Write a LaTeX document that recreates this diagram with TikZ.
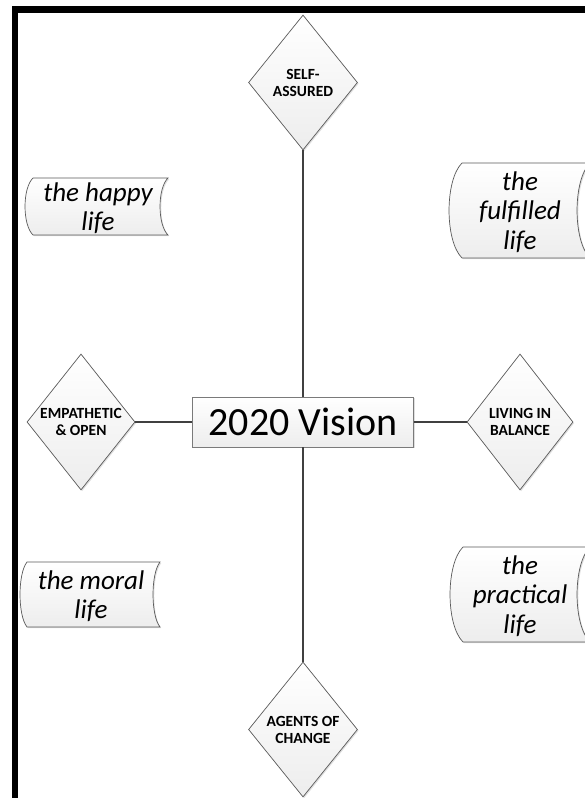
\documentclass[tikz,border=0pt]{standalone}
\usepackage{fontspec}
\setmainfont{Carlito}
\usetikzlibrary{shapes.geometric,shadows}
\definecolor{linec}{HTML}{404040}
\definecolor{edgec}{HTML}{5A5A5A}
\definecolor{boxedge}{HTML}{7A7A7A}
\definecolor{fillb}{HTML}{EDEDED}
\newcommand\sdshape[5]{%
  \path[tapebox] (#1,#3) -- (#2,#3)
    .. controls ({#2-1.33*#5},{#3+0.18*(#4-#3)}) and ({#2-1.33*#5},{#4-0.18*(#4-#3)}) .. (#2,#4)
    -- (#1,#4)
    .. controls ({#1-1.33*#5},{#4-0.18*(#4-#3)}) and ({#1-1.33*#5},{#3+0.18*(#4-#3)}) .. (#1,#3)
    -- cycle;}
\begin{document}
\begin{tikzpicture}[x=1pt,y=-1pt,
  softshadow/.style={drop shadow={shadow xshift=1.2pt,shadow yshift=-1.2pt,opacity=0.25,fill=black!50}},
  dia/.style={diamond, draw=edgec, line width=0.7pt, top color=white, bottom color=fillb,
    minimum width=109pt, minimum height=135pt, inner sep=0pt, softshadow},
  dtext/.style={font=\bfseries\fontsize{15.5}{17}\selectfont, align=center, inner sep=0pt},
  visbox/.style={rectangle, draw=boxedge, line width=0.8pt, top color=white, bottom color=fillb,
    minimum width=221pt, minimum height=50pt, inner sep=0pt, softshadow,
    font=\fontsize{40}{46}\selectfont},
  tapebox/.style={draw=edgec, line width=0.7pt, top color=white, bottom color=fillb, softshadow},
  ttext/.style={font=\itshape\fontsize{27}{29.5}\selectfont, align=center, inner sep=0pt},
  conn/.style={draw=linec, line width=2pt}
]
\useasboundingbox (0,0) rectangle (585,798);
\clip (0,0) rectangle (585,798);
\fill[white] (0,0) rectangle (585,798);
% border
\fill[black] (12,6) rectangle (585,13);
\fill[black] (12,6) rectangle (18,798);

% stored-data shapes
\sdshape{33}{168}{178}{235}{8}
\node[ttext] (happy) at (98,208) {the happy\\life};
\sdshape{462}{590}{163}{258}{13}
\node[ttext] (fulfilled) at (520,212) {the\\fulfilled\\life};
\sdshape{27}{160}{562}{627}{7}
\node[ttext] (moral) at (91,596) {the moral\\life};
\sdshape{463}{590}{547}{642}{13}
\node[ttext] (practical) at (520,596) {the\\practical\\life};

% diamonds
\node[dia] (sa) at (303,82.5) {};
\node[dtext] (satext) at (sa) {SELF-\\ASSURED};
\node[dia] (ac) at (303,729.5) {};
\node[dtext] (actext) at (ac) {AGENTS OF\\CHANGE};
\node[dia, minimum width=108pt, minimum height=136pt] (eo) at (81,422) {};
\node[dtext] (eotext) at (eo) {EMPATHETIC\\\& OPEN};
\node[dia, minimum width=106pt, minimum height=136pt] (lb) at (520,422) {};
\node[dtext] (lbtext) at (lb) {LIVING IN\\BALANCE};

% central box
\node[visbox] (vis) at (303,422) {2020 Vision};

% connectors
\draw[conn] (sa.south) -- (vis.north);
\draw[conn] (vis.south) -- (ac.north);
\draw[conn] (eo.east) -- (vis.west);
\draw[conn] (vis.east) -- (lb.west);
\end{tikzpicture}
\end{document}
